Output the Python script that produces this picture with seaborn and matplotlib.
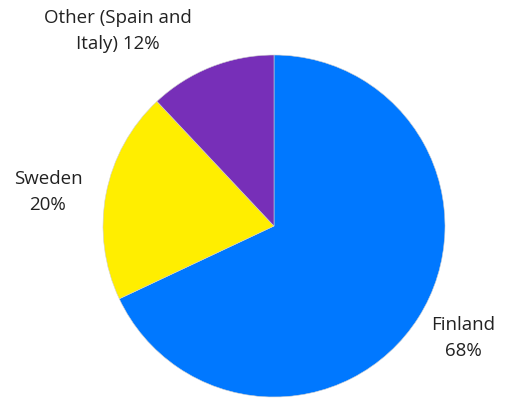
import matplotlib
matplotlib.use("Agg")
import matplotlib.pyplot as plt
import seaborn as sns

labels = ["Finland", "Sweden", "Other (Spain and\nItaly)"]
values = [68, 20, 12]
colors = ["#0078FF", "#FFEE00", "#772FB8"]

sns.set_theme(style="white")
plt.rcParams['font.family'] = ['Open Sans', 'DejaVu Sans']

fig = plt.figure(figsize=(5.08, 3.98), dpi=100)
ax = fig.add_axes([0, 0, 1, 1])

ax.pie(values, colors=sns.color_palette(colors), startangle=90, counterclock=False,
       center=(274, 172), radius=171, frame=True,
       wedgeprops=dict(linewidth=0.4, edgecolor="#d0d0d0"))
ax.set_xlim(0, 508)
ax.set_ylim(0, 398)
ax.set_aspect('equal')
ax.axis('off')

label_pos = [(463, 60), (48, 206), (118, 367)]
for lab, v, (x, y) in zip(labels, values, label_pos):
    if "\n" in lab:
        txt = f"{lab} {v}%"
    else:
        txt = f"{lab}\n{v}%"
    ax.text(x, y, txt, ha="center", va="center", fontsize=13.5, color="#222222",
            linespacing=1.6)

fig.savefig("out.png", dpi=100)
